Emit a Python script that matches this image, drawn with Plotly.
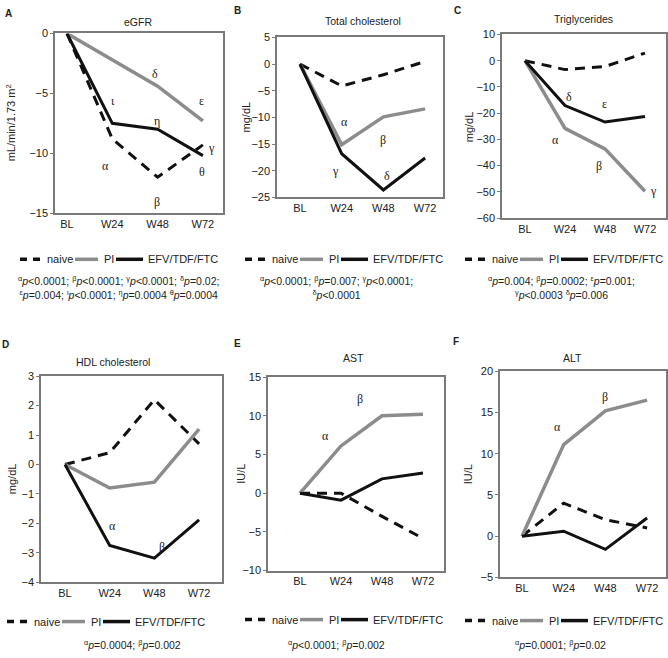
import plotly.graph_objects as go

W, H = 668, 658

weeks = ["BL", "W24", "W48", "W72"]
series_names = ["naive", "PI", "EFV/TDF/FTC"]

# change from baseline, per panel: naive, PI, EFV/TDF/FTC
egfr_naive = [0, -8.8, -12.0, -9.3]
egfr_pi = [0, -2.2, -4.4, -7.3]
egfr_efv = [0, -7.5, -8.0, -10.2]

tc_naive = [0, -4.1, -2.0, 0.5]
tc_pi = [0, -15.1, -9.9, -8.4]
tc_efv = [0, -16.8, -23.6, -17.6]

tg_naive = [0, -3.4, -2.2, 2.9]
tg_pi = [0, -25.8, -33.6, -49.8]
tg_efv = [0, -17.1, -23.4, -21.3]

hdl_naive = [0, 0.4, 2.2, 0.7]
hdl_pi = [0, -0.8, -0.6, 1.2]
hdl_efv = [0, -2.75, -3.18, -1.88]

ast_naive = [0, 0.0, -3.0, -5.85]
ast_pi = [0, 6.1, 10.0, 10.2]
ast_efv = [0, -0.9, 1.85, 2.6]

alt_naive = [0, 4.0, 2.0, 1.0]
alt_pi = [0, 11.1, 15.2, 16.5]
alt_efv = [0, 0.6, -1.6, 2.2]

FONT = "Liberation Sans, Arial, sans-serif"
SERIF = "Liberation Serif, Times New Roman, serif"
GRAY = "#8c8c8c"
BLACK = "#111111"
AXC = "#7a7a7a"
TXT = "#222222"

panels = [
    dict(letter="A", title="eGFR", ytitle="mL/min/1.73 m<sup>2</sup>",
         data=[egfr_naive, egfr_pi, egfr_efv], yr=[-15, 0], dt=5,
         box=(55, 223, 28, 211), x0=67, sp=45.3, ytx=11,
         greek=[("\u03b9", 1.02, -5.6), ("\u03b7", 1.99, -7.3), ("\u03b4", 1.94, -3.4),
                ("\u03b5", 2.97, -5.6), ("\u03b3", 3.19, -9.6), ("\u03b8", 2.97, -11.6),
                ("\u03b1", 0.84, -11.1), ("\u03b2", 1.98, -14.1)],
         foot="<sup>\u03b1</sup><i>p</i>&lt;0.0001; <sup>\u03b2</sup><i>p</i>&lt;0.0001; "
              "<sup>\u03b3</sup><i>p</i>&lt;0.0001; <sup>\u03b4</sup><i>p</i>=0.02;<br>"
              "<sup>\u03b5</sup><i>p</i>=0.004; <sup>\u03b9</sup><i>p</i>&lt;0.0001; "
              "<sup>\u03b7</sup><i>p</i>=0.0004 <sup>\u03b8</sup><i>p</i>=0.0004",
         fx=119, fy=287, leg=(20, 258), tpos=(138, 16), lpos=(8, 8)),
    dict(letter="B", title="Total cholesterol", ytitle="mg/dL",
         data=[tc_naive, tc_pi, tc_efv], yr=[-25, 5], dt=5,
         box=(277, 443, 32, 195), x0=300, sp=41.7, ytx=246,
         greek=[("\u03b1", 1.06, -10.9), ("\u03b2", 2.0, -14.3),
                ("\u03b3", 0.84, -20.1), ("\u03b4", 2.08, -21.0)],
         foot="<sup>\u03b1</sup><i>p</i>&lt;0.0001; <sup>\u03b2</sup><i>p</i>=0.007; "
              "<sup>\u03b3</sup><i>p</i>&lt;0.0001;<br><sup>\u03b4</sup><i>p</i>&lt;0.0001",
         fx=337, fy=287, leg=(245, 258), tpos=(363, 15), lpos=(238, 5)),
    dict(letter="C", title="Triglycerides", ytitle="mg/dL",
         data=[tg_naive, tg_pi, tg_efv], yr=[-60, 10], dt=10,
         box=(502, 666, 29, 216), x0=525, sp=40, ytx=469,
         greek=[("\u03b4", 1.11, -13.8), ("\u03b5", 1.98, -16.5), ("\u03b1", 0.75, -30.3),
                ("\u03b2", 1.86, -40.2), ("\u03b3", 3.2, -49.8)],
         foot="<sup>\u03b1</sup><i>p</i>=0.004; <sup>\u03b2</sup><i>p</i>=0.0002; "
              "<sup>\u03b5</sup><i>p</i>=0.001;<br><sup>\u03b3</sup><i>p</i>&lt;0.0003 "
              "<sup>\u03b4</sup><i>p</i>=0.006",
         fx=561, fy=287, leg=(465, 258), tpos=(583, 13), lpos=(457, 5)),
    dict(letter="D", title="HDL cholesterol", ytitle="mg/dL",
         data=[hdl_naive, hdl_pi, hdl_efv], yr=[-4, 3], dt=1,
         box=(41, 222, 377, 587), x0=65, sp=44.7, ytx=12,
         greek=[("\u03b1", 1.06, -2.1), ("\u03b2", 2.16, -2.8)],
         foot="<sup>\u03b1</sup><i>p</i>=0.0004; <sup>\u03b2</sup><i>p</i>=0.002",
         fx=132, fy=650, leg=(7, 627), tpos=(113, 363), lpos=(5, 345)),
    dict(letter="E", title="AST", ytitle="IU/L",
         data=[ast_naive, ast_pi, ast_efv], yr=[-10, 15], dt=5,
         box=(268, 444, 378, 575), x0=300, sp=41, ytx=241,
         greek=[("\u03b1", 0.63, 7.4), ("\u03b2", 1.46, 12.2)],
         foot="<sup>\u03b1</sup><i>p</i>&lt;0.0001; <sup>\u03b2</sup><i>p</i>=0.002",
         fx=337, fy=650, leg=(245, 625), tpos=(353, 359), lpos=(238, 344)),
    dict(letter="F", title="ALT", ytitle="IU/L",
         data=[alt_naive, alt_pi, alt_efv], yr=[-5, 20], dt=5,
         box=(500, 666, 372, 582), x0=522, sp=41.7, ytx=468,
         greek=[("\u03b1", 0.85, 13.2), ("\u03b2", 1.99, 16.9)],
         foot="<sup>\u03b1</sup><i>p</i>=0.0001; <sup>\u03b2</sup><i>p</i>=0.02",
         fx=560, fy=650, leg=(465, 626), tpos=(572, 359), lpos=(456, 342)),
]

styles = [
    dict(color=BLACK, width=3, dash="10px,7px"),
    dict(color=GRAY, width=3.5, dash="solid"),
    dict(color=BLACK, width=3, dash="solid"),
]
# legend key layout (offsets in px from the start of each key row)
key_lines = [(0, 20, "7px,6px"), (55, 78, "solid"), (96, 123, "solid")]
key_text = [25, 82, 126]


def px(x, y):
    return x / W, 1 - y / H


fig = go.Figure()
annotations = []
shapes = []
layout = {}

for i, p in enumerate(panels):
    n = "" if i == 0 else str(i + 1)
    xa, ya = "x" + n, "y" + n
    l, r, t, b = p["box"]
    for name, vals, st in zip(series_names, p["data"], styles):
        fig.add_trace(go.Scatter(
            x=weeks, y=vals, mode="lines", name=name,
            line=st, xaxis=xa, yaxis=ya, showlegend=False, hoverinfo="skip",
        ))
    layout["xaxis" + n] = dict(
        domain=[l / W, r / W], anchor=ya, type="category",
        range=[(l - p["x0"]) / p["sp"], (r - p["x0"]) / p["sp"]],
        showline=True, linecolor=AXC, linewidth=1.5, mirror=True,
        ticks="", showgrid=False, zeroline=False,
        tickfont=dict(size=11, color=TXT), fixedrange=True,
    )
    layout["yaxis" + n] = dict(
        domain=[1 - b / H, 1 - t / H], anchor=xa, range=p["yr"], dtick=p["dt"],
        showline=True, linecolor=AXC, linewidth=1.5, mirror=True,
        ticks="outside", ticklen=3, tickcolor=AXC, showgrid=False, zeroline=False,
        tickfont=dict(size=11, color=TXT), fixedrange=True,
    )

    # legend row drawn per panel
    lx, ly = p["leg"]
    for (a, c, d), st in zip(key_lines, styles):
        x1, y1 = px(lx + a, ly)
        x2, _ = px(lx + c, ly)
        shapes.append(dict(type="line", xref="paper", yref="paper", x0=x1, x1=x2, y0=y1, y1=y1,
                           line=dict(color=st["color"], width=3.5, dash=d)))
    for off, name in zip(key_text, series_names):
        x1, y1 = px(lx + off, ly)
        annotations.append(dict(x=x1, y=y1, xref="paper", yref="paper", text=name,
                                xanchor="left", yanchor="middle", showarrow=False,
                                font=dict(size=11, color=TXT)))

    tx, ty = px(*p["tpos"])
    annotations.append(dict(x=tx, y=ty, xref="paper", yref="paper", text=p["title"],
                            xanchor="center", yanchor="middle", showarrow=False,
                            font=dict(size=10.5, color=TXT)))
    tx, ty = px(*p["lpos"])
    annotations.append(dict(x=tx, y=ty, xref="paper", yref="paper", text="<b>" + p["letter"] + "</b>",
                            xanchor="center", yanchor="middle", showarrow=False,
                            font=dict(size=10, color=TXT)))
    tx, ty = px(p["ytx"], (t + b) / 2)
    annotations.append(dict(x=tx, y=ty, xref="paper", yref="paper", text=p["ytitle"], textangle=-90,
                            xanchor="center", yanchor="middle", showarrow=False,
                            font=dict(size=11, color=TXT)))
    for g, gx, gy in p["greek"]:
        annotations.append(dict(x=gx, y=gy, xref=xa, yref=ya, text=g, showarrow=False,
                                xanchor="center", yanchor="middle",
                                font=dict(family=SERIF, size=12, color="#1a1a1a")))
    tx, ty = px(p["fx"], p["fy"])
    annotations.append(dict(x=tx, y=ty, xref="paper", yref="paper", text=p["foot"],
                            xanchor="center", yanchor="middle", showarrow=False, align="center",
                            font=dict(size=10.5, color=TXT)))

fig.update_layout(
    width=W, height=H,
    margin=dict(l=0, r=0, t=0, b=0),
    paper_bgcolor="white", plot_bgcolor="white",
    font=dict(family=FONT, color=TXT),
    annotations=annotations,
    shapes=shapes,
    **layout,
)

# page body has a default 8px margin; drop it so the figure fills the window
fig.write_html("out.html", config={"displayModeBar": False},
               post_script="document.body.style.margin='0';")
